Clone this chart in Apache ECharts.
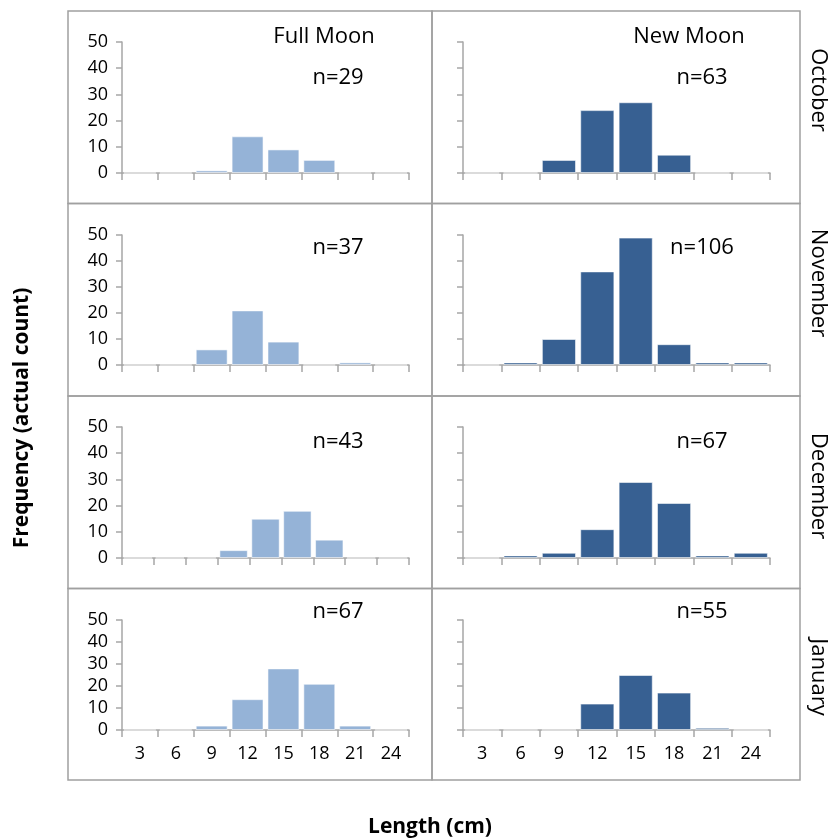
<!DOCTYPE html>
<html>
<head>
<meta charset="utf-8">
<script src="https://cdn.jsdelivr.net/npm/echarts@6/dist/echarts.min.js"></script>
<style>html,body{margin:0;padding:0;background:#fff;}#c{width:828px;height:839px;}</style>
</head>
<body>
<div id="c"></div>
<script>
// ---- data ----
var categories = ['3', '6', '9', '12', '15', '18', '21', '24'];
var decFullCategories = ['3', '6', '9', '12', '15', '18', '21', '24', '27'];
var months = ['October', 'November', 'December', 'January'];
var phases = ['Full Moon', 'New Moon'];
var yTicks = [0, 10, 20, 30, 40, 50];

var octFull = [0, 0, 1, 14, 9, 5, 0, 0];
var octNew  = [0, 0, 5, 24, 27, 7, 0, 0];
var novFull = [0, 0, 6, 21, 9, 0, 1, 0];
var novNew  = [0, 1, 10, 36, 49, 8, 1, 1];
var decFull = [0, 0, 0, 3, 15, 18, 7, 0, 0];
var decNew  = [0, 1, 2, 11, 29, 21, 1, 2];
var janFull = [0, 0, 2, 14, 28, 21, 2, 0];
var janNew  = [0, 0, 0, 12, 25, 17, 1, 0];

var nFull = [29, 37, 43, 67];
var nNew  = [63, 106, 67, 55];

// ---- layout ----
var FONT = '"Open Sans", "Noto Sans", sans-serif';
var colLeft = [{left: 122, width: 287}, {left: 463, width: 307}];
var rowGrid = [{top: 42, height: 131}, {top: 235, height: 130}, {top: 427, height: 131}, {top: 620, height: 110}];
var rowBox = [11, 203.5, 396, 588.5, 780];
var colBox = [68, 432, 800];
var colors = ['#95B3D7', '#376092'];
var axisColor = '#a6a6a6';

var panels = [
  [octFull, octNew],
  [novFull, novNew],
  [decFull, decNew],
  [janFull, janNew]
];

var grids = [], xAxes = [], yAxes = [], series = [], graphics = [];
for (var r = 0; r < 4; r++) {
  for (var c = 0; c < 2; c++) {
    var idx = r * 2 + c;
    grids.push({left: colLeft[c].left, width: colLeft[c].width, top: rowGrid[r].top, height: rowGrid[r].height});
    var cats = (r === 2 && c === 0) ? decFullCategories : categories;
    xAxes.push({
      type: 'category', gridIndex: idx, data: cats, boundaryGap: true,
      axisLine: {show: true, lineStyle: {color: axisColor, width: 1.5}},
      axisTick: {show: true, length: 7, lineStyle: {color: axisColor, width: 1.5}},
      axisLabel: {show: r === 3, color: '#000', fontFamily: FONT, fontSize: 18, margin: 15},
      splitLine: {show: false}
    });
    yAxes.push({
      type: 'value', gridIndex: idx, min: yTicks[0], max: yTicks[yTicks.length - 1], interval: 10,
      axisLine: {show: true, lineStyle: {color: axisColor, width: 1.5}},
      axisTick: {show: true, length: 6, lineStyle: {color: axisColor, width: 1.5}},
      axisLabel: {show: c === 0, color: '#000', fontFamily: FONT, fontSize: 18, margin: 14},
      splitLine: {show: false}
    });
    series.push({
      type: 'bar', xAxisIndex: idx, yAxisIndex: idx, data: panels[r][c],
      barCategoryGap: '11%',
      itemStyle: {color: colors[c], borderColor: 'rgba(255,255,255,0.55)', borderWidth: 1},
      silent: true
    });
  }
}

// panel boxes
for (var r2 = 0; r2 < 4; r2++) {
  for (var c2 = 0; c2 < 2; c2++) {
    graphics.push({
      type: 'rect', silent: true, z: -1,
      shape: {x: colBox[c2], y: rowBox[r2], width: colBox[c2 + 1] - colBox[c2], height: rowBox[r2 + 1] - rowBox[r2]},
      style: {fill: 'none', stroke: '#a0a0a0', lineWidth: 1.5}
    });
  }
}

function txt(s, x, y, opts) {
  opts = opts || {};
  graphics.push({
    type: 'text', x: x, y: y, rotation: opts.rot || 0, silent: true,
    style: {text: s, fill: '#000', font: (opts.bold ? 'bold ' : '') + (opts.size || 22) + 'px ' + FONT,
      textAlign: 'center', textVerticalAlign: 'middle'}
  });
}

txt(phases[0], 324, 37);
txt(phases[1], 689, 37);
var nY = [78, 248, 442, 612];
for (var i = 0; i < 4; i++) {
  txt('n=' + nFull[i], 338, nY[i]);
  txt('n=' + nNew[i], 702, nY[i]);
}
var mY = [90, 283, 486, 677];
for (var j = 0; j < 4; j++) {
  txt(months[j], 818, mY[j], {rot: -Math.PI / 2});
}
txt('Frequency (actual count)', 22, 418, {rot: Math.PI / 2, bold: true, size: 21});
txt('Length (cm)', 430, 827, {bold: true, size: 21});

var chart = echarts.init(document.getElementById('c'), null, {renderer: 'canvas'});
chart.setOption({
  animation: false,
  backgroundColor: '#fff',
  grid: grids,
  xAxis: xAxes,
  yAxis: yAxes,
  series: series,
  graphic: graphics
});
</script>
</body>
</html>
